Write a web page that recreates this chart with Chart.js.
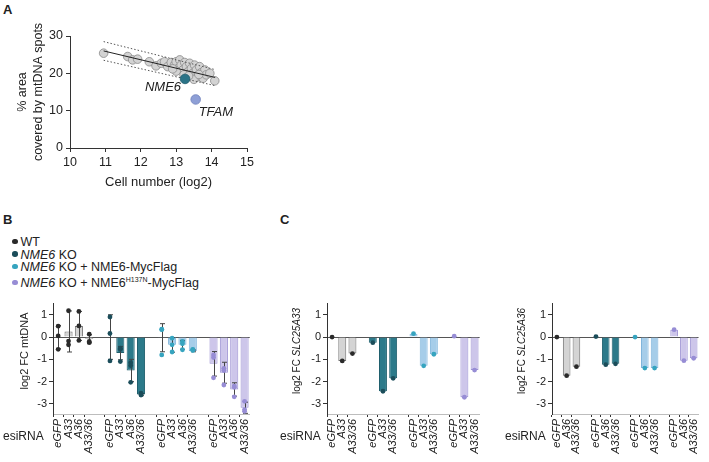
<!DOCTYPE html>
<html>
<head>
<meta charset="utf-8">
<script src="https://cdn.jsdelivr.net/npm/chart.js@4.4.1/dist/chart.umd.min.js"></script>
<style>
  body { margin: 0; width: 709px; height: 462px; background: #fff; position: relative; overflow: hidden;
         font-family: "Liberation Sans", Arial, sans-serif; color: #222; }
  canvas { position: absolute; }
  .txt { position: absolute; white-space: nowrap; line-height: 1; }
  .panel { font-weight: bold; font-size: 13px; }
  .esi { font-size: 12px; }
  #legend { position: absolute; left: 12px; top: 236px; font-size: 12.5px; line-height: 12.7px; }
  #legend .dot { display: inline-block; width: 5.5px; height: 5.5px; border-radius: 50%; margin-right: 3px; vertical-align: 2px; }
</style>
</head>
<body>
<div class="txt panel" style="left:3px;top:3px">A</div>
<div class="txt panel" style="left:3px;top:213px">B</div>
<div class="txt panel" style="left:280px;top:213px">C</div>

<canvas id="chartA" width="260" height="200" style="left:0;top:0"></canvas>
<canvas id="chartB" width="260" height="167" style="left:0;top:295px"></canvas>
<canvas id="chartC1" width="228" height="167" style="left:262px;top:295px"></canvas>
<canvas id="chartC2" width="219" height="167" style="left:490px;top:295px"></canvas>

<div id="legend"></div>
<div class="txt esi" style="left:3px;top:430px">esiRNA</div>
<div class="txt esi" style="left:280px;top:430px">esiRNA</div>
<div class="txt esi" style="left:505px;top:430px">esiRNA</div>

<script>
// ---- panel A: screen data ----
const cellNumber = [10.95, 11.63, 11.77, 11.91, 12.24, 12.43, 12.58, 12.67, 12.76, 12.86, 12.95, 13.0,
  13.05, 13.1, 13.14, 13.19, 13.24, 13.29, 13.33, 13.38, 13.43, 13.47, 13.52, 13.57, 13.62, 13.66,
  13.71, 13.76, 13.81, 13.85, 13.95, 14.09, 13.0, 13.22, 13.5, 13.64, 12.9, 13.35];
const areaPct = [25.4, 24.5, 23.6, 23.8, 23.1, 22.0, 22.7, 23.1, 21.8, 22.9, 22.2, 23.1,
  21.3, 23.6, 22.2, 20.9, 22.9, 21.8, 20.4, 22.7, 21.3, 20.0, 22.2, 20.9, 19.1, 21.8,
  20.2, 18.7, 20.9, 19.6, 20.0, 18.0, 20.6, 19.6, 18.4, 19.7, 21.2, 19.3];
const fitLine = [{x: 10.95, y: 26.0}, {x: 14.1, y: 18.9}];
const bandUpper = [{x: 10.95, y: 28.5}, {x: 14.1, y: 21.0}];
const bandLower = [{x: 10.95, y: 23.5}, {x: 14.1, y: 16.7}];
const hitNME6 = [{x: 13.25, y: 18.5}];
const hitTFAM = [{x: 13.55, y: 13.0}];
const xTicksA = [10, 11, 12, 13, 14, 15];
const yTicksA = [0, 10, 20, 30];

// ---- panels B, C ----
const groups = ['WT', 'NME6 KO', 'NME6 KO + NME6-MycFlag', 'NME6 KO + NME6H137N-MycFlag'];
const legendLabels = ['WT', '<i>NME6</i> KO', '<i>NME6</i> KO + NME6-MycFlag',
  '<i>NME6</i> KO + NME6<sup style="font-size:7px">H137N</sup>-MycFlag'];
const esiB = ['eGFP', 'A33', 'A36', 'A33/36'];
const meanB = [
  [0.0, 0.25, 0.5, -0.08],
  [0.0, -0.72, -1.5, -2.58],
  [-0.03, -0.35, -0.35, -0.62],
  [-1.2, -1.6, -2.35, -3.17]
];
const sdB = [
  [0.52, 0.92, 0.65, 0.18],
  [1.0, 0.3, 0.5, 0.05],
  [0.63, 0.33, 0.2, 0.04],
  [0.55, 0.47, 0.3, 0.25]
];
const repB = [
  [[0.49, 0.05, -0.55], [1.18, -0.18, -0.35], [1.15, 0.5, -0.15], [0.13, -0.25, -0.2]],
  [[0.9, 0.16, -1.07], [-0.5, -0.55, -1.1], [-1.15, -1.28, -2.03], [-2.52, -2.58, -2.6]],
  [[0.35, 0.33, -0.8], [-0.05, -0.35, -0.67], [-0.2, -0.3, -0.57], [-0.55, -0.6, -0.58]],
  [[-0.8, -0.92, -1.83], [-1.4, -1.5, -2.15], [-2.2, -2.25, -2.68], [-2.88, -3.25, -3.33]]
];
const esiC1 = ['eGFP', 'A33', 'A33/36'];
const valC1 = [
  [0.0, -1.07, -0.74],
  [-0.25, -2.43, -1.85],
  [0.15, -1.29, -0.77],
  [0.04, -2.7, -1.48]
];
const esiC2 = ['eGFP', 'A36', 'A33/36'];
const valC2 = [
  [0.0, -1.73, -1.33],
  [0.02, -1.24, -1.2],
  [0.0, -1.39, -1.39],
  [0.33, -1.06, -0.95]
];
const yTicksFC = [-3, -2, -1, 0, 1];

// styles
const barFill = ['#d4d4d4', '#2c7a8a', '#a6cde9', '#cdc6ea'];
const barLine = ['#707070', '#1f5f6d', '#80b5dc', '#9b90d2'];
const dotColor = ['#2a2a2a', '#1b4d5a', '#36a4bf', '#978dd5'];
const axisCol = '#333';
const font = 'Liberation Sans, Arial, sans-serif';

Chart.defaults.font.family = font;
Chart.defaults.color = '#222';
Chart.defaults.animation = false;
Chart.defaults.plugins.legend.display = false;
Chart.defaults.plugins.tooltip.enabled = false;

document.getElementById('legend').innerHTML = legendLabels
  .map((l, i) => `<div><span class="dot" style="background:${dotColor[i]}"></span>${l}</div>`).join('');

// error bars drawn right after each group's bars
const errorBars = {
  id: 'errorBars',
  afterDatasetDraw(chart, args, opts) {
    const ds = chart.data.datasets[args.index];
    if (!opts.sd || ds.type !== 'bar') return;
    const {x, y} = chart.scales;
    const labels = chart.data.labels;
    const ctx = chart.ctx;
    ctx.save();
    ctx.strokeStyle = '#444';
    ctx.lineWidth = 1;
    ds.data.forEach((d, ci) => {
      const px = Math.round(x.getPixelForValue(labels.indexOf(d.x))) + 0.5;
      const e = opts.sd[ds.group][ci];
      const hi = y.getPixelForValue(d.y + e);
      const lo = y.getPixelForValue(d.y - e);
      ctx.beginPath();
      ctx.moveTo(px, hi); ctx.lineTo(px, lo);
      ctx.moveTo(px - 2.5, hi); ctx.lineTo(px + 2.5, hi);
      ctx.moveTo(px - 2.5, lo); ctx.lineTo(px + 2.5, lo);
      ctx.stroke();
    });
    ctx.restore();
  }
};

// rotated y title with mixed upright / italic parts, centred on the plot
const yTitle = {
  id: 'yTitle',
  afterDraw(chart, args, opts) {
    if (!opts.parts) return;
    const ctx = chart.ctx;
    ctx.save();
    ctx.translate(opts.x, opts.y);
    ctx.rotate(-Math.PI / 2);
    ctx.fillStyle = '#222';
    ctx.textBaseline = 'middle';
    ctx.textAlign = 'left';
    const fonts = opts.parts.map(p => (p.italic ? 'italic ' : '') + opts.size + 'px ' + font);
    let total = 0;
    opts.parts.forEach((p, i) => { ctx.font = fonts[i]; total += ctx.measureText(p.text).width; });
    let pos = -total / 2;
    opts.parts.forEach((p, i) => {
      ctx.font = fonts[i];
      ctx.fillText(p.text, pos, 0);
      pos += ctx.measureText(p.text).width;
    });
    ctx.restore();
  }
};

// italic labels next to highlighted hits in A
const hitLabels = {
  id: 'hitLabels',
  afterDatasetsDraw(chart) {
    const ctx = chart.ctx;
    chart.data.datasets.forEach((ds, i) => {
      if (!ds.tag) return;
      const pt = chart.getDatasetMeta(i).data[0];
      ctx.save();
      ctx.font = 'italic 13px ' + font;
      ctx.fillStyle = '#222';
      ctx.textAlign = ds.tag.align;
      ctx.textBaseline = 'middle';
      ctx.fillText(ds.tag.text, pt.x + ds.tag.dx, pt.y + ds.tag.dy);
      ctx.restore();
    });
  }
};

new Chart(document.getElementById('chartA'), {
  type: 'scatter',
  data: {
    datasets: [
      {type: 'line', data: fitLine, borderColor: '#222', borderWidth: 1, pointRadius: 0, order: 2},
      {type: 'line', data: bandUpper, borderColor: '#555', borderWidth: 1, borderDash: [1.5, 2], pointRadius: 0, order: 2},
      {type: 'line', data: bandLower, borderColor: '#555', borderWidth: 1, borderDash: [1.5, 2], pointRadius: 0, order: 2},
      {data: cellNumber.map((c, i) => ({x: c, y: areaPct[i]})), backgroundColor: '#d3d3d3',
       borderColor: '#8a8a8a', borderWidth: 0.8, pointRadius: 4.3, order: 3},
      {data: hitNME6, backgroundColor: '#2a7387', borderColor: '#1f5c6c', borderWidth: 0.8, pointRadius: 4.8, order: 1,
       tag: {text: 'NME6', dx: -4, dy: 8, align: 'right'}},
      {data: hitTFAM, backgroundColor: '#8e9fd6', borderColor: '#6f80bb', borderWidth: 0.8, pointRadius: 4.8, order: 1,
       tag: {text: 'TFAM', dx: 3, dy: 12.5, align: 'left'}}
    ]
  },
  options: {
    responsive: false,
    layout: {padding: {top: 36, right: 13, bottom: 0, left: 0}},
    scales: {
      x: {
        type: 'linear', min: 10, max: 15,
        afterBuildTicks: s => { s.ticks = xTicksA.map(v => ({value: v})); },
        afterFit: s => { s.height = 52; },
        ticks: {font: {size: 12.5}, padding: 3},
        grid: {drawOnChartArea: false, tickLength: 4, tickColor: axisCol},
        border: {color: axisCol},
        title: {display: true, text: 'Cell number (log2)', font: {size: 13}, padding: {top: 0, bottom: 10}}
      },
      y: {
        type: 'linear', min: 0, max: 30,
        afterBuildTicks: s => { s.ticks = yTicksA.map(v => ({value: v})); },
        afterFit: s => { s.width = 70; },
        ticks: {font: {size: 12.5}, padding: 3},
        grid: {drawOnChartArea: false, tickLength: 4, tickColor: axisCol},
        border: {color: axisCol},
        title: {display: true, text: ['% area', 'covered by mtDNA spots'], font: {size: 12.5, lineHeight: 1.25},
                padding: {top: 15, bottom: 0}}
      }
    }
  },
  plugins: [hitLabels]
});

function makeFCChart(id, cats, values, reps, sd, yWidth, padRight, title) {
  const keys = [];
  groups.forEach((g, gi) => {
    if (gi > 0) keys.push('gap' + gi);
    cats.forEach(c => keys.push(gi + '|' + c));
  });
  const datasets = [];
  groups.forEach((g, gi) => {
    datasets.push({
      type: 'bar', group: gi, label: g,
      data: cats.map((c, ci) => ({x: gi + '|' + c, y: values[gi][ci]})),
      backgroundColor: barFill[gi], borderColor: barLine[gi], borderWidth: 1,
      grouped: false, barPercentage: 0.78, categoryPercentage: 1, order: 2
    });
    const pts = [];
    cats.forEach((c, ci) => {
      const r = reps ? reps[gi][ci] : [values[gi][ci]];
      r.forEach(v => pts.push({x: gi + '|' + c, y: v}));
    });
    datasets.push({
      type: 'scatter', data: pts, backgroundColor: dotColor[gi], borderColor: dotColor[gi],
      borderWidth: 0, pointRadius: 2.4, order: 1
    });
  });

  new Chart(document.getElementById(id), {
    type: 'bar',
    data: {labels: keys, datasets},
    options: {
      responsive: false,
      layout: {padding: {top: 8, right: padRight, bottom: 0, left: 0}},
      plugins: {errorBars: {sd}, yTitle: title},
      scales: {
        x: {
          type: 'category', offset: true,
          afterFit: s => { s.height = 48; },
          ticks: {
            autoSkip: false, minRotation: 90, maxRotation: 90, padding: 2,
            font: {size: 11, style: 'italic'}, color: '#222',
            callback(v) { const k = this.getLabelForValue(v); return k.includes('|') ? k.split('|')[1] : ''; }
          },
          grid: {drawOnChartArea: false, tickLength: 3,
                 tickColor: c => (c.tick && c.tick.label ? axisCol : 'rgba(0,0,0,0)')},
          border: {color: '#bdbdbd'}
        },
        y: {
          min: -3.45, max: 1.5,
          afterBuildTicks: s => { s.ticks = yTicksFC.map(v => ({value: v})); },
          afterFit: s => { s.width = yWidth; },
          ticks: {font: {size: 11}, padding: 2, color: '#222'},
          grid: {color: c => (c.tick && c.tick.value === 0 ? '#555' : 'rgba(0,0,0,0)'),
                 tickColor: axisCol, tickLength: 4},
          border: {color: axisCol}
        }
      }
    },
    plugins: [errorBars, yTitle]
  });
}

makeFCChart('chartB', esiB, meanB, repB, sdB, 53, 8,
  {x: 25, y: 56, size: 11, parts: [{text: 'log2 FC mtDNA'}]});
makeFCChart('chartC1', esiC1, valC1, null, null, 65, 7,
  {x: 35, y: 56, size: 10, parts: [{text: 'log2 FC '}, {text: 'SLC25A33', italic: true}]});
makeFCChart('chartC2', esiC2, valC2, null, null, 62, 2,
  {x: 32, y: 56, size: 10, parts: [{text: 'log2 FC '}, {text: 'SLC25A36', italic: true}]});
</script>
</body>
</html>
